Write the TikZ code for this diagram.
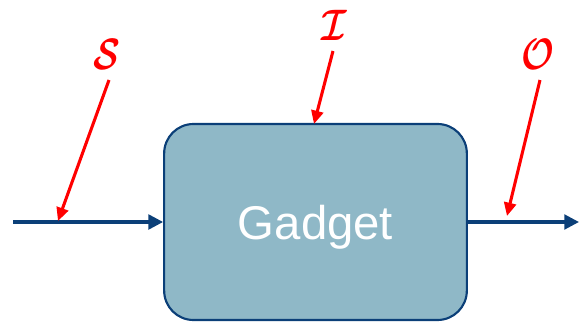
\documentclass[tikz,border=0pt]{standalone}
\usepackage{fix-cm}
\usepackage{fontspec}
\setsansfont{Liberation Sans}
\usepackage{bm}
\usetikzlibrary{arrows.meta, positioning}
\definecolor{boxfill}{HTML}{8FB8C7}
\definecolor{flowblue}{HTML}{0B3F78}
\tikzset{
  gadgetbox/.style={draw=flowblue, line width=1.6pt, fill=boxfill, rounded corners=22pt,
    minimum width=227pt, minimum height=147pt},
  gadgetname/.style={text=white, font=\sffamily\fontsize{35.5}{35.5}\selectfont},
  flow/.style={flowblue, line width=2.3pt, -{Triangle[length=11pt,width=11pt]}},
  hint/.style={red, line width=2.3pt, -{Triangle[length=10pt,width=9pt]}},
  hintlabel/.style={red, inner sep=0pt, xscale=0.8, font=\fontsize{33}{33}\selectfont}
}
\begin{document}
\begin{tikzpicture}[x=0.75pt,y=-0.75pt]
  \useasboundingbox (0,0) rectangle (579,322);
  % gadget
  \node[gadgetbox] (gadget) at (315.5,222) {};
  \node[gadgetname] (name) at (315.5,227) {Gadget};
  % wires
  \coordinate (in) at (13,222);
  \coordinate (out) at (579,222);
  \draw[flow] (in) -- (gadget.west |- in);
  \draw[flow] (gadget.east |- out) -- (out);
  % labels
  \node[hintlabel] (S) at (107,54) {$\bm{\mathcal{S}}$};
  \node[hintlabel] (I) at (334,25) {$\bm{\mathcal{I}}$};
  \node[hintlabel] (O) at (538,54) {$\bm{\mathcal{O}}$};
  \coordinate (Sfrom) at (109,80);
  \coordinate (Sto) at (58,221);
  \coordinate (Ifrom) at (333,51);
  \coordinate (Ito) at (314,124);
  \coordinate (Ofrom) at (540,80);
  \coordinate (Oto) at (507,216);
  \draw[hint] (Sfrom) -- (Sto);
  \draw[hint] (Ifrom) -- (Ito);
  \draw[hint] (Ofrom) -- (Oto);
\end{tikzpicture}
\end{document}
